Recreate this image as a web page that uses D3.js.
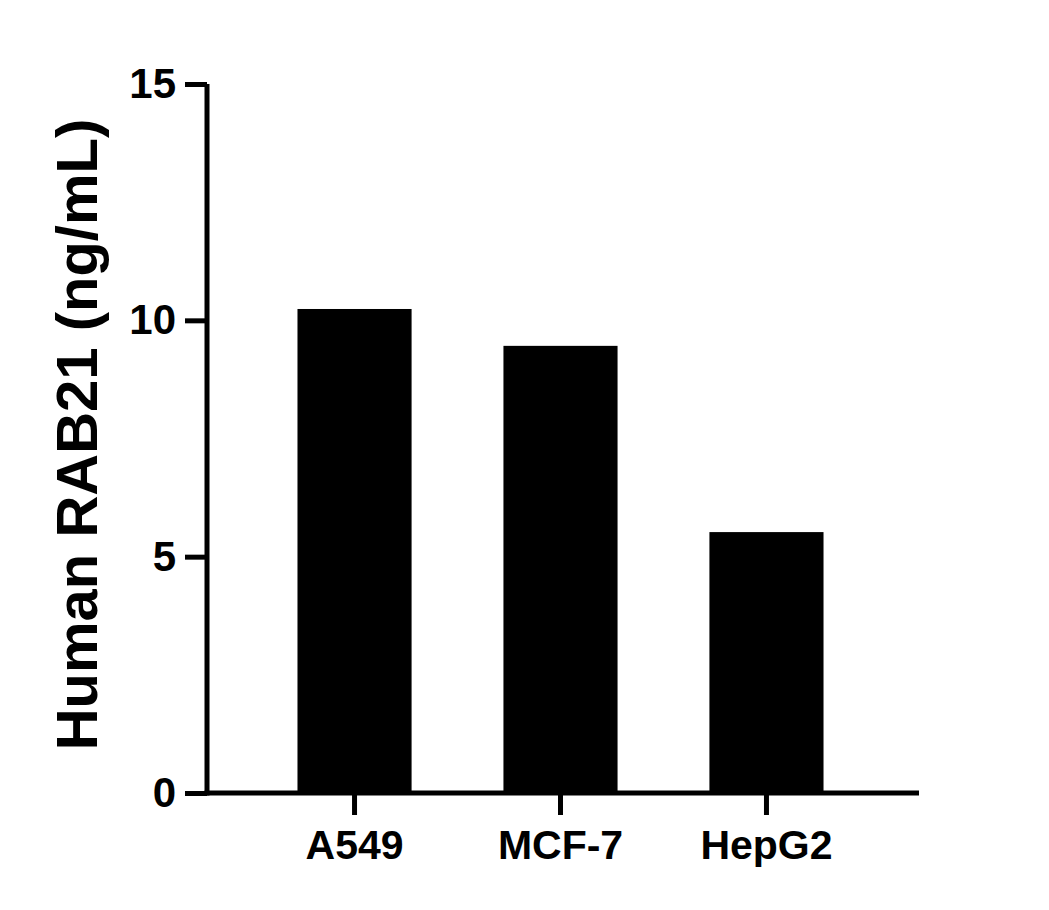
<!DOCTYPE html>
<html>
<head>
<meta charset="utf-8">
<script src="https://cdn.jsdelivr.net/npm/d3@7"></script>
<style>
  body { margin: 0; background: #fff; }
  svg { display: block; font-family: 'Liberation Sans', Arial, sans-serif; font-weight: bold; }
</style>
</head>
<body>
<svg id="chart"></svg>
<script>
// data
const categories = ['A549', 'MCF-7', 'HepG2'];
const values = [10.24, 9.46, 5.52];
const yTicks = [0, 5, 10, 15];
const yLabel = 'Human RAB21 (ng/mL)';

const W = 1049, H = 910;
const margin = { top: 84, right: 131, bottom: 117, left: 207 };
const width = W - margin.left - margin.right,
  height = H - margin.top - margin.bottom;

const svg = d3.select('#chart').attr('width', W).attr('height', H);
const g = svg.append('g')
  .attr('transform', 'translate(' + margin.left + ',' + margin.top + ')');

// x scale
const x = d3.scaleBand()
  .domain(categories)
  .range([-2, width - 2])
  .paddingInner(0.446)
  .paddingOuter(0.449);

// y scale
const y = d3.scaleLinear().domain([0, 15]).range([height, 0]);

// bars
g.selectAll('rect.bar')
  .data(values)
  .enter()
  .append('rect')
  .attr('class', 'bar')
  .attr('fill', '#000')
  .attr('x', function (d, i) { return x(categories[i]); })
  .attr('width', x.bandwidth())
  .attr('y', function (d) { return y(d); })
  .attr('height', function (d) { return y(0) - y(d); });

// y axis
const yAxis = g.append('g')
  .call(d3.axisLeft(y).tickValues(yTicks).tickSize(22).tickPadding(9).tickSizeOuter(0));
yAxis.select('.domain').attr('stroke', '#000').attr('stroke-width', 5)
  .attr('d', 'M0,' + (height + 2.5) + 'V0');
yAxis.selectAll('.tick line').attr('stroke', '#000').attr('stroke-width', 5);
yAxis.selectAll('.tick text')
  .attr('fill', '#000')
  .style('font-size', '42px')
  .style('font-weight', 'bold')
  .style('font-family', "'Liberation Sans', Arial, sans-serif");

// x axis
const xAxis = g.append('g')
  .attr('transform', 'translate(0,' + height + ')')
  .call(d3.axisBottom(x).tickSize(22).tickPadding(15).tickSizeOuter(0));
xAxis.select('.domain').attr('stroke', '#000').attr('stroke-width', 5)
  .attr('d', 'M-2.5,0H' + (width + 1));
xAxis.selectAll('.tick line').attr('stroke', '#000').attr('stroke-width', 5);
xAxis.selectAll('.tick text')
  .attr('fill', '#000')
  .style('font-size', '41px')
  .style('font-weight', 'bold')
  .style('font-family', "'Liberation Sans', Arial, sans-serif");

// y axis title
svg.append('text')
  .attr('transform', 'translate(97,' + (margin.top + height / 2 - 4) + ') rotate(-90)')
  .attr('text-anchor', 'middle')
  .style('font-size', '58px')
  .attr('fill', '#000')
  .text(yLabel);
</script>
</body>
</html>
